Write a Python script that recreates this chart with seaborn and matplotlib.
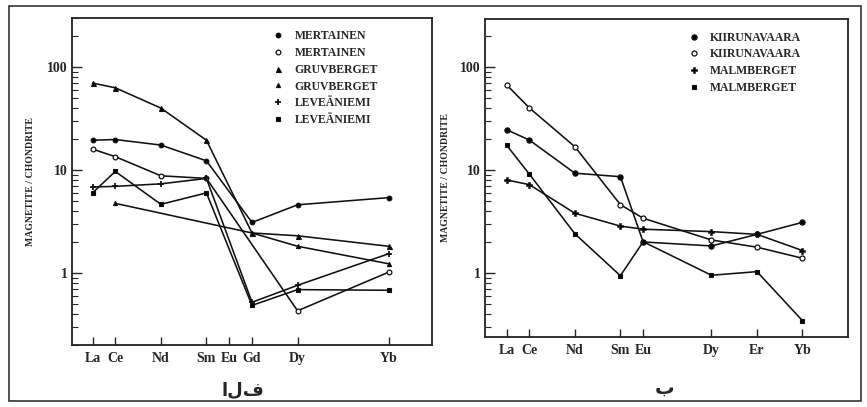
import numpy as np
import pandas as pd
import matplotlib
matplotlib.use("Agg")
import matplotlib.pyplot as plt
import seaborn as sns
from matplotlib.lines import Line2D
from matplotlib.patches import Rectangle
from matplotlib.ticker import LogLocator, NullFormatter, FixedLocator, FixedFormatter

sns.set_style("white")
plt.rcParams["font.family"] = ["Liberation Serif", "DejaVu Sans"]
plt.rcParams["font.weight"] = "bold"

nan = np.nan

# ---- data: left panel (الف) ----
left_elements = ["La", "Ce", "Nd", "Sm", "Eu", "Gd", "Dy", "Yb"]
left_atomic = [57, 58, 60, 62, 63, 64, 66, 70]
mertainen_filled = [19.5, 19.8, 17.5, 12.3, nan, 3.1, 4.6, 5.4]
mertainen_open = [16.0, 13.5, 8.8, 8.3, nan, nan, 0.43, 1.02]
gruvberget_filled = [70.0, 63.0, 40.0, 19.5, nan, 2.45, 2.3, 1.82]
gruvberget_small = [nan, 4.75, nan, nan, nan, 2.45, 1.82, 1.23]
leveaniemi_plus = [6.85, 6.95, 7.35, 8.3, nan, 0.52, 0.76, 1.54]
leveaniemi_square = [6.0, 9.7, 4.65, 6.0, nan, 0.485, 0.69, 0.68]
left_labels = ["MERTAINEN", "MERTAINEN", "GRUVBERGET", "GRUVBERGET",
               "LEVEÄNIEMI", "LEVEÄNIEMI"]

# ---- data: right panel (ب) ----
right_elements = ["La", "Ce", "Nd", "Sm", "Eu", "Dy", "Er", "Yb"]
right_atomic = [57, 58, 60, 62, 63, 66, 68, 70]
kiruna_filled = [24.6, 19.5, 9.3, 8.6, 2.0, 1.83, 2.37, 3.1]
kiruna_open = [67.0, 40.0, 16.8, 4.6, 3.4, 2.09, 1.78, 1.39]
malm_plus = [8.0, 7.2, 3.8, 2.85, 2.66, 2.52, 2.37, 1.65]
malm_square = [17.4, 9.1, 2.4, 0.94, 2.01, 0.95, 1.03, 0.344]
right_labels = ["KIIRUNAVAARA", "KIIRUNAVAARA", "MALMBERGET", "MALMBERGET"]

y_ticks = [1, 10, 100]
y_tick_labels = ["1", "10", "100"]
y_label = "MAGNETITE / CHONDRITE"
captions = ["الف", "ب"]

# marker styles: (marker, facecolor, size, edgewidth)
left_styles = [("o", "black", 3.4, 0.8), ("o", "white", 3.4, 0.9), ("^", "black", 3.6, 0.8),
               ("^", "black", 3.0, 0.8), ("+", "black", 5.0, 1.3), ("s", "black", 2.8, 0.8)]
right_styles = [("o", "black", 3.8, 0.8), ("o", "white", 3.6, 0.9),
                ("P", "black", 4.0, 0.4), ("s", "black", 3.2, 0.8)]

fig = plt.figure(figsize=(8.67, 4.07), dpi=100)
W, H = 867, 407


def ax_rect(x0, y0, x1, y1):
    return [x0 / W, 1 - y1 / H, (x1 - x0) / W, (y1 - y0) / H]


ax_l = fig.add_axes(ax_rect(72, 18, 432, 345))
ax_r = fig.add_axes(ax_rect(485, 19, 848, 337))


def draw(ax, atomic, elements, series, labels, styles, xlim, ylim, leg_anchor, ylab_x):
    handles = []
    for vals, lab, (mk, fc, ms, mew) in zip(series, labels, styles):
        df = pd.DataFrame({"Z": atomic, "v": vals}).dropna()
        sns.lineplot(data=df, x="Z", y="v", ax=ax, color="#111111", linewidth=1.15,
                     marker=mk, markersize=ms, markerfacecolor=fc,
                     markeredgecolor="#111111", markeredgewidth=mew,
                     estimator=None, sort=False, legend=False)
        handles.append(Line2D([], [], linestyle="none", marker=mk, markersize=ms,
                              markerfacecolor=fc, markeredgecolor="#111111",
                              markeredgewidth=mew))
    ax.set_yscale("log")
    ax.set_xlim(*xlim)
    ax.set_ylim(*ylim)
    ax.xaxis.set_major_locator(FixedLocator(atomic))
    ax.xaxis.set_major_formatter(FixedFormatter(elements))
    ax.xaxis.set_minor_locator(FixedLocator([]))
    ax.yaxis.set_major_locator(FixedLocator(y_ticks))
    ax.yaxis.set_major_formatter(FixedFormatter(y_tick_labels))
    ax.yaxis.set_minor_locator(LogLocator(base=10, subs=np.arange(2, 10)))
    ax.yaxis.set_minor_formatter(NullFormatter())
    ax.tick_params(axis="x", which="major", direction="in", length=6, width=1.0,
                   labelsize=10, pad=5, bottom=True, top=False)
    ax.tick_params(axis="y", which="major", direction="in", length=7, width=1.0,
                   labelsize=10, pad=3, left=True, right=False)
    ax.tick_params(axis="y", which="minor", direction="in", length=4, width=0.8,
                   left=True, right=False)
    for sp in ax.spines.values():
        sp.set_linewidth(1.3)
        sp.set_color("#222222")
    ax.set_xlabel("")
    ax.set_ylabel(y_label, fontsize=7, fontweight="bold")
    ax.yaxis.set_label_coords(ylab_x, 0.5)
    ax.grid(False)
    ax.legend(handles, labels, loc="upper left", bbox_to_anchor=leg_anchor,
              frameon=False, handlelength=0.8, handletextpad=1.0,
              labelspacing=0.4, borderpad=0, borderaxespad=0,
              prop={"family": "Liberation Serif", "weight": "bold", "size": 8.5})


draw(ax_l, left_atomic, left_elements,
     [mertainen_filled, mertainen_open, gruvberget_filled, gruvberget_small,
      leveaniemi_plus, leveaniemi_square],
     left_labels, left_styles, (56.1, 71.9), (0.2, 300), (0.56, 0.962), -0.103)

draw(ax_r, right_atomic, right_elements,
     [kiruna_filled, kiruna_open, malm_plus, malm_square],
     right_labels, right_styles, (56.05, 72.0), (0.239, 292), (0.562, 0.96), -0.096)

fig.text(243 / W, 1 - 390 / H, captions[0], ha="center", va="center",
         fontsize=13, family=["DejaVu Sans"])
fig.text(665 / W, 1 - 388 / H, captions[1], ha="center", va="center",
         fontsize=14, family=["DejaVu Sans"])

fig.patches.append(Rectangle((9 / W, 1 - 401 / H), (861 - 9) / W, (401 - 6) / H,
                             transform=fig.transFigure, fill=False,
                             linewidth=1.2, edgecolor="#333333"))

fig.savefig("out.png", dpi=100, facecolor="white")
